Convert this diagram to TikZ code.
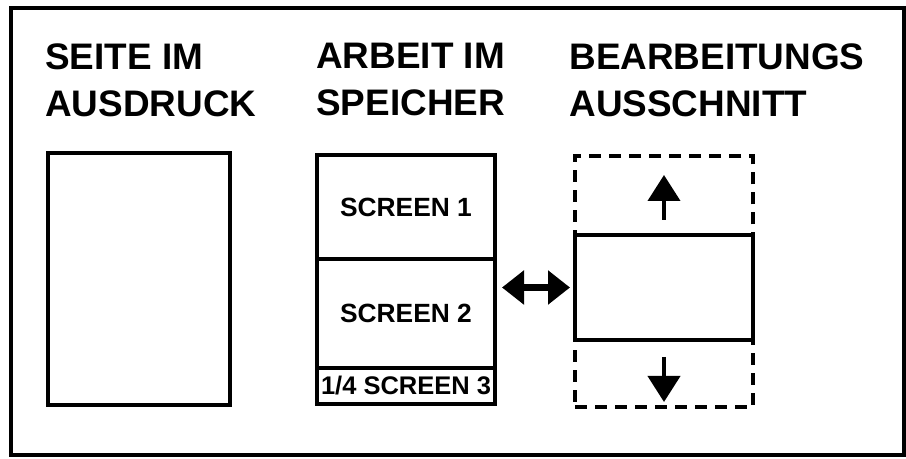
\documentclass[tikz,border=0pt]{standalone}
\usepackage{fontspec}
\setmainfont{Liberation Sans}
\usetikzlibrary{arrows.meta, positioning}
\tikzset{
  sheetbox/.style={
    rectangle, draw, line width=2.3pt,
    minimum width=3.64cm, minimum height=5.04cm,
    inner sep=0pt, outer sep=0pt
  },
  screenbox/.style={
    rectangle, draw, line width=2.3pt,
    minimum width=3.56cm, minimum height=#1,
    inner sep=0pt, outer sep=0pt,
    font=\fontsize{15}{18}\selectfont\bfseries
  },
  viewbox/.style={
    rectangle, draw, line width=2.3pt,
    dash pattern=on 6.8pt off 4.6pt,
    minimum width=3.56cm, minimum height=5.02cm,
    inner sep=0pt, outer sep=0pt
  },
  titletext/.style={
    anchor=north west, align=left, inner sep=0pt,
    font=\fontsize{21}{26.7}\selectfont\bfseries
  },
  moveline/.style={
    -{Triangle[length=0.52cm, width=0.64cm]}, line width=2.3pt
  },
  swapline/.style={
    {Triangle[length=0.44cm, width=0.66cm]}-{Triangle[length=0.44cm, width=0.66cm]},
    line width=4pt
  }
}

\begin{document}
\begin{tikzpicture}

  \useasboundingbox (0,0) rectangle (18.12,9.18);

  % ── Outer frame ────────────────────────────────────────
  \draw[line width=2pt] (0.22,0.08) rectangle (18.08,9.02);

  % ── Printed page ───────────────────────────────────────
  \node[sheetbox] (page) at (2.78,3.60) {};
  \node[titletext] (pagetitle) at (0.90,8.32) {SEITE IM\\AUSDRUCK};

  % ── Work in memory ─────────────────────────────────────
  \node[screenbox=2.08cm] (scr1) at (8.12,5.04) {SCREEN 1};
  \node[screenbox=2.18cm, below=0pt of scr1] (scr2) {SCREEN 2};
  \node[screenbox=0.72cm, below=0pt of scr2,
        font=\fontsize{14.5}{17}\selectfont\bfseries]
    (scr3) {1/4 SCREEN 3};
  \node[titletext] (worktitle) at (6.32,8.32) {ARBEIT IM\\SPEICHER};

  % ── Edit window ────────────────────────────────────────
  \node[viewbox] (view) at (13.28,3.55) {};
  \node[screenbox=2.10cm, fill=white] (inner) at (13.28,3.43) {};
  \node[titletext] (viewtitle) at (11.38,8.32) {BEARBEITUNGS\\AUSSCHNITT};

  % ── Arrows: scrolling ──────────────────────────────────
  \coordinate[above=0.3cm of inner.north] (uptail);
  \coordinate[below=0.38cm of view.north] (uptip);
  \coordinate[below=0.34cm of inner.south] (downtail);
  \coordinate[above=0.1cm of view.south] (downtip);
  \draw[moveline] (uptail) -- (uptip);
  \draw[moveline] (downtail) -- (downtip);

  % ── Arrow: memory <-> window ───────────────────────────
  \draw[swapline, shorten <=0.14cm, shorten >=0.1cm]
    (inner.west -| scr2.east) -- (inner.west);

\end{tikzpicture}
\end{document}
